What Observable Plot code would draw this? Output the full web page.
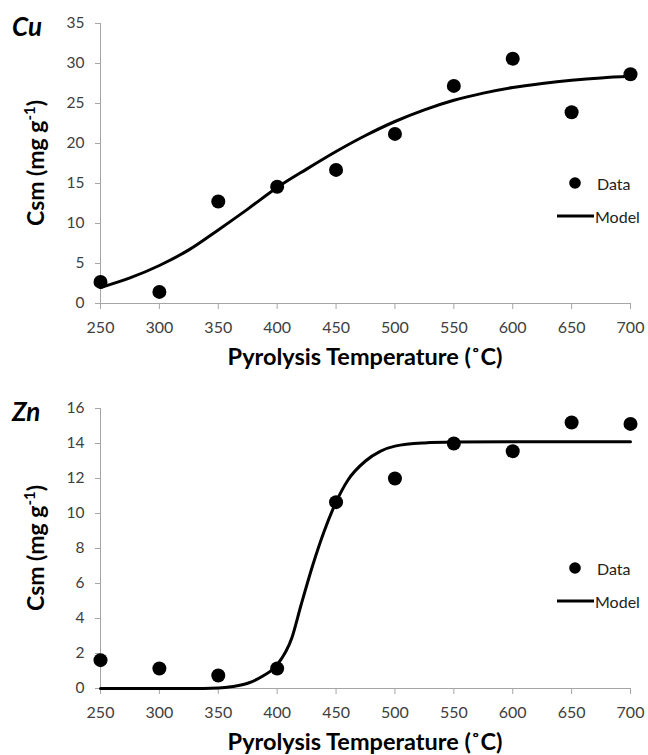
<!DOCTYPE html>
<html>
<head>
<meta charset="utf-8">
<script src="https://cdn.jsdelivr.net/npm/d3@7"></script>
<script src="https://cdn.jsdelivr.net/npm/@observablehq/plot@0.6"></script>
<style>
  html, body { margin: 0; padding: 0; background: #fff; }
  #chart { width: 648px; }
  #chart svg { display: block; }
</style>
</head>
<body>
<div id="chart"></div>
<script>
// ---- Data ----
const temperatures = [250, 300, 350, 400, 450, 500, 550, 600, 650, 700];
const xTicks = [250, 300, 350, 400, 450, 500, 550, 600, 650, 700];

// Cu panel
const cuData = [2.7, 1.45, 12.75, 14.6, 16.7, 21.2, 27.2, 30.6, 23.9, 28.65];
const cuModelT = [250, 275, 300, 325, 350, 375, 400, 425, 450, 475, 500, 525, 550, 575, 600, 625, 650, 675, 700];
const cuModelY = [2.0, 3.2, 4.75, 6.7, 9.2, 11.8, 14.5, 16.8, 19.0, 21.0, 22.75, 24.2, 25.4, 26.3, 27.0, 27.5, 27.9, 28.2, 28.4];
const cuYTicks = [0, 5, 10, 15, 20, 25, 30, 35];

// Zn panel
const znData = [1.62, 1.14, 0.74, 1.14, 10.65, 12.0, 14.0, 13.56, 15.2, 15.12];
const znModelT = [250, 300, 325, 350, 362.5, 375, 387.5, 400, 412.5, 420, 430, 440, 450, 460, 475, 487.5, 500, 525, 550, 600, 650, 700];
const znModelY = [0, 0, 0, 0.03, 0.12, 0.3, 0.7, 1.35, 2.9, 4.7, 7.0, 9.0, 10.65, 11.9, 13.0, 13.55, 13.85, 14.03, 14.08, 14.1, 14.1, 14.1];
const znYTicks = [0, 2, 4, 6, 8, 10, 12, 14, 16];

const panels = [
  {label: "Cu", data: cuData, modelT: cuModelT, modelY: cuModelY, yTicks: cuYTicks, height: 385},
  {label: "Zn", data: znData, modelT: znModelT, modelY: znModelY, yTicks: znYTicks, height: 370}
];

const axisGray = "#a6a6a6";
const tickText = "#404040";
const FONT = "Lato, 'Open Sans', sans-serif";

function makePanel(p) {
  const points = temperatures.map((t, i) => ({t, v: p.data[i]}));
  const model = p.modelT.map((t, i) => ({t, v: p.modelY[i]}));
  const yMax = p.yTicks[p.yTicks.length - 1];
  const svg = Plot.plot({
    width: 648,
    height: p.height,
    marginTop: 23,
    marginBottom: p.height - 303,
    marginLeft: 100,
    marginRight: 18,
    style: {fontFamily: FONT, background: "white", overflow: "visible"},
    x: {domain: [250, 700]},
    y: {domain: [0, yMax]},
    marks: [
      Plot.axisX({ticks: xTicks, tickSize: 6, tickPadding: 12, fontSize: 16, stroke: axisGray, fill: tickText, label: null, tickFormat: d => String(d)}),
      Plot.axisY({ticks: p.yTicks, tickSize: 5, tickPadding: 11, fontSize: 15.5, stroke: axisGray, fill: tickText, label: null, tickFormat: d => String(d)}),
      Plot.ruleX([250], {stroke: axisGray}),
      Plot.ruleY([0], {stroke: axisGray}),
      Plot.line(model, {x: "t", y: "v", curve: "monotone-x", stroke: "black", strokeWidth: 3}),
      Plot.dot(points, {x: "t", y: "v", r: 7, fill: "black"})
    ]
  });

  const s = d3.select(svg);
  // panel label
  s.append("text")
    .attr("x", 12).attr("y", 36).attr("text-anchor", "start")
    .attr("font-family", FONT).attr("font-weight", "bold").attr("font-style", "italic")
    .attr("font-size", 26).attr("fill", "black")
    .text(p.label);
  // x title
  s.append("text")
    .attr("x", 365).attr("y", 356)
    .attr("text-anchor", "middle").attr("dominant-baseline", "central")
    .attr("font-family", FONT).attr("font-weight", "bold").attr("font-size", 23.5).attr("fill", "black")
    .text("Pyrolysis Temperature (˚C)");
  // y title with superscript
  const yt = s.append("text")
    .attr("transform", "translate(44,163) rotate(-90)")
    .attr("text-anchor", "middle")
    .attr("font-family", FONT).attr("font-weight", "bold").attr("font-size", 23).attr("fill", "black");
  yt.append("tspan").text("Csm (mg g");
  yt.append("tspan").attr("dy", -9).attr("font-size", 15).text("-1");
  yt.append("tspan").attr("dy", 9).text(")");
  // legend
  const lg = s.append("g").attr("font-family", FONT).attr("font-size", 16).attr("fill", "#222").attr("text-anchor", "start");
  lg.append("circle").attr("cx", 575).attr("cy", 183).attr("r", 5.8).attr("fill", "black");
  lg.append("text").attr("x", 597).attr("y", 183).attr("dominant-baseline", "central").text("Data");
  lg.append("line").attr("x1", 557).attr("x2", 594).attr("y1", 216).attr("y2", 216).attr("stroke", "black").attr("stroke-width", 3);
  lg.append("text").attr("x", 595).attr("y", 216).attr("dominant-baseline", "central").text("Model");
  return svg;
}

const chart = document.getElementById("chart");
panels.forEach(p => chart.appendChild(makePanel(p)));
</script>
</body>
</html>
